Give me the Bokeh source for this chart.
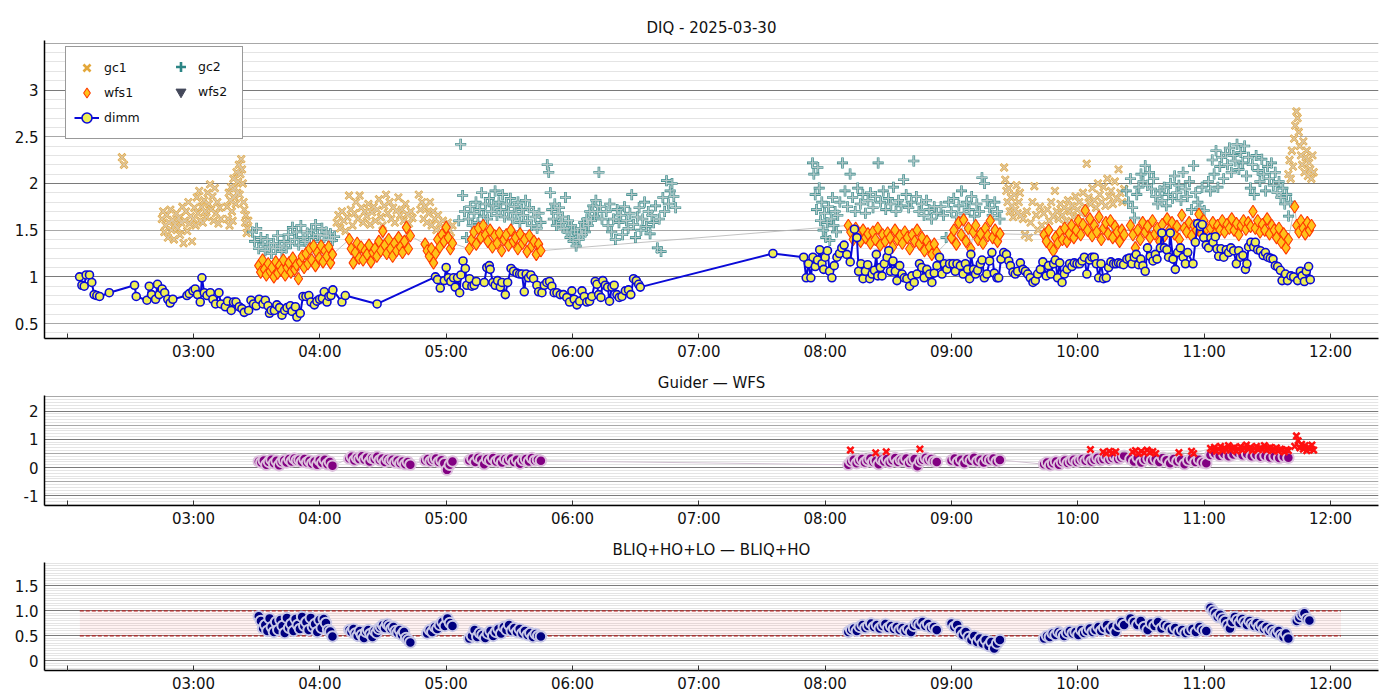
import numpy as np
from bokeh.plotting import figure
from bokeh.layouts import column
from bokeh.models import (FixedTicker, Grid, Legend, LegendItem, Range1d,
                          CustomJSTickFormatter)
from bokeh.embed import file_html
from bokeh.resources import INLINE

FONT = "DejaVu Sans"
TITLE_TOP = "DIQ - 2025-03-30"
TITLE_MID = "Guider \u2014 WFS"
TITLE_BOT = "BLIQ+HO+LO \u2014 BLIQ+HO"
HOUR_TICKS = [2, 3, 4, 5, 6, 7, 8, 9, 10, 11, 12]

# ---------------- DIMM seeing: (minutes after 02:00 UT, value) ----------------
dimm_obs = [
    (5.9, 1.00), (7.0, 0.91), (8.1, 0.90), (9.0, 1.02), (10.6, 1.02), (11.7, 0.94), (12.8, 0.81),
    (14.1, 0.80), (15.4, 0.79), (20.0, 0.83), (32.0, 0.91), (32.8, 0.79), (37.9, 0.75), (39.0, 0.90),
    (40.1, 0.81), (42.0, 0.76), (42.9, 0.92), (43.7, 0.81), (45.1, 0.87), (46.3, 0.83), (47.8, 0.76),
    (48.9, 0.72), (50.2, 0.76), (56.9, 0.80), (58.0, 0.82), (59.7, 0.85), (60.8, 0.87), (61.9, 0.81),
    (63.2, 0.73), (64.0, 0.99), (65.1, 0.83), (66.4, 0.80), (68.0, 0.83), (69.2, 0.76), (70.5, 0.71),
    (72.1, 0.83), (73.0, 0.71), (75.1, 0.68), (76.2, 0.74), (77.9, 0.64), (79.0, 0.73), (80.2, 0.73),
    (81.7, 0.68), (83.0, 0.66), (84.1, 0.62), (86.2, 0.64), (87.3, 0.75), (88.5, 0.71), (89.8, 0.69),
    (91.2, 0.76), (93.0, 0.71), (94.1, 0.75), (95.4, 0.69), (96.1, 0.61), (96.9, 0.64), (98.4, 0.64),
    (99.6, 0.70), (100.9, 0.67), (102.0, 0.59), (103.3, 0.64), (104.4, 0.67), (106.0, 0.69), (106.8, 0.63),
    (108.4, 0.68), (109.1, 0.57), (110.7, 0.61), (112.0, 0.79), (113.4, 0.79), (114.8, 0.80), (115.8, 0.73),
    (117.4, 0.70), (118.6, 0.74), (119.9, 0.76), (121.2, 0.77), (122.1, 0.84), (123.4, 0.73), (124.3, 0.79),
    (125.3, 0.80), (126.2, 0.86), (130.5, 0.73), (132.1, 0.80), (147.2, 0.71), (174.9, 1.00),
    (175.9, 0.97), (177.2, 0.88), (179.1, 0.96), (180.0, 1.10), (181.1, 0.99), (182.2, 0.95), (183.5, 0.99),
    (184.3, 0.89), (185.4, 0.99), (186.4, 0.83), (187.0, 1.02), (188.0, 1.17), (189.1, 1.09), (189.8, 0.91),
    (191.1, 0.98), (192.2, 0.90), (193.3, 0.91), (194.3, 0.95), (198.1, 0.94), (199.3, 1.10), (200.5, 1.12),
    (200.9, 1.08), (202.2, 0.94), (203.3, 0.91), (204.4, 0.96), (205.7, 0.89), (206.5, 0.94), (208.1, 0.81),
    (209.2, 0.94), (210.8, 1.09), (212.0, 1.06), (213.6, 1.04), (214.9, 1.03), (216.0, 1.03), (217.1, 0.84),
    (218.0, 1.03), (219.1, 0.99), (220.2, 1.02), (221.5, 0.98), (223.1, 0.91), (223.9, 0.84), (225.5, 0.83),
    (226.6, 0.91), (227.8, 0.94), (229.1, 0.95), (230.2, 0.90), (231.3, 0.83), (232.6, 0.83), (234.2, 0.81),
    (235.7, 0.81), (237.3, 0.78), (238.6, 0.73), (239.7, 0.85), (240.8, 0.76), (242.1, 0.70), (243.4, 0.74),
    (244.5, 0.85), (245.6, 0.79), (246.8, 0.73), (248.1, 0.74), (249.2, 0.79), (250.8, 0.95), (251.6, 0.92),
    (252.4, 0.81), (253.5, 0.78), (254.4, 0.96), (255.6, 0.91), (256.7, 0.89), (257.6, 0.74), (258.7, 0.89),
    (259.8, 0.91), (261.1, 0.81), (262.2, 0.78), (263.5, 0.79), (265.1, 0.85), (266.6, 0.86), (267.7, 0.81),
    (269.0, 0.98), (270.3, 0.96), (271.4, 0.92), (272.2, 0.89), (335.2, 1.25),
    (349.8, 1.21), (351.0, 0.99), (352.1, 1.14), (353.2, 0.99), (354.2, 1.21), (355.3, 1.11), (356.4, 1.18),
    (357.4, 1.29), (358.5, 1.14), (359.3, 1.08), (360.0, 1.21), (361.1, 1.28), (362.1, 1.06), (363.2, 0.99),
    (364.3, 1.12), (365.6, 1.21), (366.8, 1.25), (367.9, 1.31), (369.0, 1.34), (370.3, 1.24), (371.9, 1.16),
    (373.9, 1.51), (375.1, 1.42), (375.9, 1.06), (377.0, 1.14), (378.0, 0.98), (379.1, 1.06), (380.2, 1.13),
    (381.2, 0.98), (382.3, 1.03), (383.4, 1.07), (384.3, 1.24), (385.0, 1.01), (386.2, 1.10), (387.0, 1.01),
    (388.1, 1.14), (389.4, 1.21), (390.2, 1.28), (391.0, 1.06), (392.2, 1.17), (393.3, 1.06), (394.1, 0.96),
    (395.4, 1.12), (396.5, 1.03), (397.6, 0.99), (398.8, 0.98), (400.1, 0.90), (401.2, 1.01), (402.3, 0.94),
    (403.6, 1.03), (404.8, 1.14), (405.9, 1.10), (407.0, 0.99), (408.3, 1.08), (409.6, 1.03), (410.7, 0.94),
    (411.8, 1.04), (413.1, 1.12), (414.3, 1.21), (415.5, 1.03), (416.6, 1.14), (417.8, 1.08), (419.1, 1.14),
    (420.7, 1.14), (421.8, 1.06), (422.6, 1.14), (424.2, 1.12), (425.5, 1.03), (426.6, 1.14), (427.7, 1.08),
    (428.6, 0.98), (429.2, 1.24), (430.5, 1.08), (431.4, 1.03), (432.4, 1.07), (433.7, 1.14), (434.5, 1.18),
    (435.6, 0.99), (436.8, 1.03), (438.1, 1.17), (439.2, 1.26), (440.3, 1.04), (441.6, 0.99), (442.4, 0.99),
    (443.5, 1.19), (444.8, 1.26), (446.1, 1.24), (447.2, 1.17), (448.0, 1.12), (449.2, 1.05), (450.3, 1.03),
    (451.4, 1.06), (452.7, 1.15), (454.0, 1.08), (455.1, 1.06), (456.2, 1.03), (457.4, 0.99), (458.7, 0.94),
    (459.8, 0.96), (460.9, 1.03), (462.2, 1.08), (463.4, 1.16), (465.0, 1.01), (466.1, 1.12), (467.2, 1.03),
    (468.5, 1.14), (469.3, 1.18), (470.4, 0.99), (471.4, 1.15), (472.5, 0.94), (473.6, 1.03), (474.9, 1.08),
    (476.1, 1.14), (477.2, 1.11), (478.3, 1.15), (479.6, 1.14), (480.9, 1.14), (482.0, 1.17), (483.1, 1.21),
    (484.3, 1.03), (485.6, 1.18), (486.7, 1.21), (487.8, 1.21), (488.8, 1.14), (489.9, 0.99), (491.0, 1.14),
    (492.2, 0.98), (493.5, 0.99), (494.6, 1.10), (495.7, 1.16), (497.0, 1.14), (498.2, 1.14), (499.3, 1.15),
    (500.4, 1.14), (501.7, 1.13), (503.3, 1.19), (504.5, 1.20), (505.7, 1.14), (506.8, 1.21), (507.7, 1.24),
    (508.8, 1.13), (509.9, 1.19), (510.9, 1.12), (512.0, 1.06), (513.1, 1.31), (514.4, 1.22), (515.7, 1.17),
    (516.8, 1.24), (517.6, 1.19), (519.2, 1.31), (519.9, 1.47), (521.1, 1.31), (522.3, 1.29), (523.1, 1.21),
    (523.9, 1.47), (525.2, 1.19), (526.3, 1.08), (527.4, 1.26), (528.7, 1.31), (530.0, 1.21), (531.1, 1.14),
    (532.2, 1.26), (534.7, 1.14), (535.8, 1.37), (536.9, 1.57), (538.2, 1.54), (539.1, 1.56), (539.8, 1.42),
    (541.0, 1.34), (542.1, 1.31), (543.2, 1.42), (544.2, 1.37), (545.3, 1.43), (546.1, 1.30), (546.9, 1.22),
    (548.0, 1.30), (549.3, 1.21), (550.5, 1.29), (551.6, 1.26), (552.7, 1.31), (554.0, 1.28), (555.3, 1.14),
    (556.4, 1.28), (557.2, 1.21), (558.4, 1.23), (559.6, 1.08), (560.3, 1.14), (561.1, 1.32), (562.2, 1.37),
    (563.5, 1.32), (564.3, 1.37), (565.4, 1.29), (566.7, 1.28), (568.0, 1.23), (569.1, 1.26), (570.2, 1.21),
    (571.4, 1.20), (572.7, 1.19), (573.8, 1.12), (574.9, 1.11), (576.2, 1.07), (577.0, 0.96), (578.6, 1.03),
    (579.6, 0.96), (581.2, 1.01), (582.5, 1.00), (584.4, 0.96), (585.7, 1.06), (586.5, 1.01), (587.6, 0.95),
    (588.5, 1.06), (589.6, 1.11), (590.4, 0.97),
]

# ---------------- gc1 (guide camera 1) ----------------
gc1_a = [2.28, 2.20]
gc1_b = [1.62, 1.70, 1.48, 1.55, 1.66, 1.42, 1.58, 1.72, 1.50, 1.61, 1.40, 1.56, 1.68, 1.52, 1.63, 1.45,
         1.58, 1.75, 1.36, 1.60, 1.70, 1.49, 1.80, 1.57, 1.65, 1.38, 1.62, 1.74, 1.55, 1.85, 1.68, 1.92,
         1.60, 1.75, 1.58, 1.82, 1.70, 1.64, 1.90, 1.78, 1.99, 1.72, 1.86, 1.60, 1.95, 1.68, 1.80, 1.57,
         1.74, 1.62]
gc1_c = [1.75, 1.62, 1.90, 1.55, 1.82, 1.96, 1.70, 1.60, 2.05, 1.85, 1.95, 1.78, 2.12, 1.90, 2.02, 2.20,
         1.88, 2.10, 2.26, 2.15, 2.00, 1.80, 1.72, 1.58, 1.66, 1.47, 1.52, 1.60]
gc1_d = [1.58, 1.66, 1.52, 1.70, 1.60, 1.49, 1.64, 1.87, 1.72, 1.55, 1.68, 1.80, 1.62, 1.87, 1.74, 1.58,
         1.70, 1.65, 1.78, 1.56, 1.69, 1.75, 1.60, 1.72, 1.83, 1.64, 1.55, 1.76, 1.88, 1.68, 1.80, 1.62,
         1.74, 1.58, 1.71, 1.85, 1.66, 1.72, 1.60, 1.78, 1.67, 1.57, 1.70, 1.63]
gc1_e = [1.88, 1.72, 1.80, 1.62, 1.75, 1.58, 1.68, 1.80, 1.55, 1.70, 1.62, 1.50, 1.66, 1.57, 1.48, 1.60,
         1.52, 1.45, 1.58, 1.50, 1.42, 1.55]
gc1_f = [2.17, 2.04, 1.92, 1.80, 1.95, 1.70, 1.85, 1.76, 1.64, 1.88, 1.72, 1.98, 1.68, 1.80, 1.90, 1.66]
gc1_g = [1.62, 1.45, 1.70, 1.42, 1.58, 1.80, 1.97, 1.66, 1.50, 1.75, 1.55, 1.68, 1.46, 1.72, 1.60, 1.80,
         1.65, 1.92, 1.70, 1.62, 1.78, 1.66, 1.74, 1.60, 1.82, 1.70, 1.76, 1.64, 1.86, 1.72, 1.80, 1.68,
         1.90, 1.75, 2.21, 1.85, 1.78, 1.95, 1.82, 1.74, 2.00, 1.88, 1.80, 1.96, 1.76, 2.05, 1.86, 1.92,
         1.78, 2.02, 1.84, 2.15, 1.90, 1.80, 1.94]
gc1_h = [2.10, 2.25, 2.05, 2.35, 2.18, 2.48, 2.62, 2.77, 2.70, 2.55, 2.40, 2.30, 2.20, 2.45, 2.12, 2.28,
         2.35, 2.08, 2.22, 2.15, 2.05, 2.30, 2.12]
gc1_segments = [("02:26", "02:27", gc1_a), ("02:45", "03:13", gc1_b), ("03:16", "03:26", gc1_c),
                ("04:08", "04:44", gc1_d), ("04:47", "05:03", gc1_e), ("09:25", "09:33", gc1_f),
                ("09:34", "10:22", gc1_g), ("11:40", "11:52", gc1_h)]

# ---------------- gc2 (guide camera 2) ----------------
gc2_a = [1.48, 1.38, 1.52, 1.30, 1.42, 1.35, 1.28, 1.40, 1.32, 1.25, 1.36, 1.30, 1.44, 1.33, 1.27, 1.38,
         1.31, 1.45, 1.36, 1.53, 1.40, 1.48, 1.34, 1.55, 1.42, 1.38, 1.47, 1.36, 1.50, 1.42, 1.56, 1.45,
         1.38, 1.52, 1.44, 1.48, 1.40, 1.46, 1.39, 1.43]
gc2_b = [1.60, 2.42, 1.87, 1.70, 1.42, 1.62, 1.75, 1.55, 1.68, 1.80, 1.58, 1.72, 1.90, 1.65, 1.78, 1.62,
         1.84, 1.70, 1.76, 1.92, 1.66, 1.80, 1.72, 1.88, 1.64, 1.78, 1.70, 1.84, 1.62, 1.75, 1.68, 1.80,
         1.58, 1.72, 1.66, 1.82, 1.60, 1.74, 1.55, 1.70, 1.64, 1.52, 1.68, 1.58]
gc2_c = [2.20, 2.12, 1.90, 1.72, 1.62, 1.78, 1.55, 1.68, 1.74, 1.58, 1.64, 1.52, 1.85, 1.48, 1.60, 1.42,
         1.55, 1.38, 1.50, 1.33, 1.46, 1.40, 1.52, 1.45, 1.58, 1.48, 1.62, 1.55, 1.70, 1.60, 1.76, 1.65,
         1.82, 1.70, 2.12, 1.75, 1.62]
gc2_d = [1.70, 1.55, 1.78, 1.48, 1.62, 1.40, 1.72, 1.58, 1.66, 1.45, 1.75, 1.60, 1.52, 1.68, 1.88, 1.56,
         1.42, 1.64, 1.74, 1.50, 1.62, 1.80, 1.54, 1.70, 1.46, 1.66, 1.58, 1.76, 1.31, 1.62, 1.27, 1.85,
         1.70, 2.03, 1.78, 1.92, 2.00, 1.86, 1.74]
gc2_e = [2.22, 2.10, 1.88, 1.72, 2.17, 1.95, 1.60, 1.80, 1.50, 1.68, 1.42, 1.58, 1.75, 1.39, 1.62, 1.85,
         1.55, 1.70, 1.48, 1.66]
gc2_f = [1.80, 2.22, 1.92, 1.75, 2.10, 1.85, 1.70, 1.95, 1.78, 1.88, 1.68, 1.82, 1.90, 1.74, 1.86, 2.22,
         1.80, 1.92, 1.72, 1.84, 1.78, 1.96, 1.70, 1.82, 1.76, 2.04, 1.88, 1.74, 1.80, 2.24, 1.86, 1.70,
         1.78, 1.66, 1.82, 1.72, 1.62, 1.75, 1.68]
gc2_g = [1.75, 1.66, 1.42, 1.80, 1.70, 1.84, 1.64, 1.76, 1.92, 1.68, 1.80, 1.72, 1.86, 1.65, 1.78, 1.70,
         2.06, 2.00, 1.82, 1.74, 1.66, 1.80, 1.70, 1.62]
gc2_h = [1.92, 1.80, 2.05, 1.74, 1.63, 1.88, 1.96, 2.10, 2.02, 2.19, 1.98, 2.12, 1.94, 2.05, 1.86, 1.78,
         1.92, 1.82, 1.96, 1.76, 1.88, 2.00, 1.84, 2.08, 1.90, 1.98, 1.82, 2.12, 1.94, 1.86, 2.02, 1.72,
         2.19, 1.90, 1.80, 1.74, 1.96, 1.71]
gc2_i = [2.02, 1.92, 2.25, 2.10, 2.35, 1.96, 2.18, 2.28, 2.05, 2.32, 2.20, 2.38, 2.12, 2.30, 2.24, 2.42,
         2.15, 2.33, 2.22, 2.40, 2.08, 2.28, 1.95, 2.20, 1.88, 2.30, 2.14, 2.02, 2.26, 2.10, 1.92, 2.18,
         2.05, 2.22, 1.98, 2.12, 1.90, 2.02, 1.85, 1.95, 1.78, 1.88, 1.65, 1.80]
gc2_segments = [("03:28", "04:07", gc2_a), ("05:06", "05:45", gc2_b), ("05:48", "06:14", gc2_c),
                ("06:16", "06:49", gc2_d), ("07:54", "08:06", gc2_e), ("08:07", "08:53", gc2_f),
                ("08:55", "09:23", gc2_g), ("10:23", "11:00", gc2_h), ("11:02", "11:41", gc2_i)]

# ---------------- wfs1 ----------------
wfs1_a = [1.12, 1.05, 1.18, 1.08, 1.02, 1.14, 1.06, 1.10, 1.00, 1.16, 1.04, 1.12, 1.07, 1.18, 1.02, 1.10,
          1.15, 1.05, 1.20, 1.08, 1.13, 0.98, 1.16, 1.22, 1.10, 1.25, 1.14, 1.30, 1.18, 1.33, 1.12, 1.26,
          1.20, 1.33, 1.16, 1.28, 1.22, 1.32, 1.15, 1.24]
wfs1_b = [1.40, 1.30, 1.15, 1.26, 1.36, 1.20, 1.32, 1.18, 1.28, 1.24, 1.34, 1.16, 1.26, 1.30, 1.22, 1.38,
          1.28, 1.49, 1.34, 1.25, 1.40, 1.30, 1.22, 1.36, 1.28, 1.42, 1.32, 1.26, 1.38, 1.53, 1.30, 1.44]
wfs1_c = [1.35, 1.28, 1.22, 1.30, 1.15, 1.25, 1.40, 1.32, 1.45, 1.38, 1.53, 1.42, 1.30, 1.36]
wfs1_d = [1.30, 1.40, 1.48, 1.35, 1.52, 1.42, 1.55, 1.45, 1.38, 1.50, 1.32, 1.44, 1.36, 1.47, 1.28, 1.40,
          1.45, 1.34, 1.50, 1.38, 1.42, 1.30, 1.46, 1.36, 1.40, 1.27, 1.44, 1.33, 1.38, 1.24, 1.35, 1.28]
wfs1_e = [1.55, 1.48, 1.40, 1.52, 1.44, 1.38, 1.50, 1.42, 1.46, 1.36, 1.48, 1.40, 1.52, 1.34, 1.45, 1.38,
          1.47, 1.42, 1.32, 1.50, 1.40, 1.44, 1.36, 1.48, 1.42, 1.30, 1.45, 1.38, 1.50, 1.35, 1.42, 1.28,
          1.38, 1.32, 1.24, 1.35, 1.26]
wfs1_f = [1.42, 1.50, 1.35, 1.58, 1.45, 1.61, 1.38, 1.52, 1.30, 1.48, 1.55, 1.40, 1.46, 1.36, 1.52, 1.44,
          1.60, 1.42, 1.50, 1.38, 1.46]
wfs1_g = [1.45, 1.38, 1.50, 1.32, 1.28, 1.42, 1.36, 1.48, 1.40, 1.52, 1.38, 1.46, 1.55, 1.42, 1.50, 1.60,
          1.45, 1.56, 1.71, 1.50, 1.62, 1.44, 1.55, 1.48, 1.64, 1.40, 1.52, 1.58, 1.46, 1.60, 1.42, 1.54,
          1.48, 1.38, 1.50, 1.45]
wfs1_h = [1.55, 1.45, 1.31, 1.50, 1.40, 1.58, 1.48, 1.54, 1.42, 1.60, 1.46, 1.52, 1.38, 1.56, 1.44, 1.62,
          1.50, 1.58, 1.46, 1.54, 1.40, 1.66, 1.52, 1.48, 1.58, 1.44, 1.55, 1.50, 1.67, 1.46, 1.60, 1.52]
wfs1_i = [1.52, 1.58, 1.46, 1.55, 1.50, 1.60, 1.48, 1.56, 1.52, 1.62, 1.50, 1.57, 1.45, 1.55, 1.60, 1.51,
          1.58, 1.54, 1.70, 1.52, 1.60, 1.48, 1.56, 1.50, 1.62, 1.46, 1.55, 1.50, 1.42, 1.52, 1.37, 1.46,
          1.31, 1.40]
wfs1_j = [1.75, 1.55, 1.48, 1.60, 1.52, 1.46, 1.58, 1.50, 1.55]
wfs1_segments = [("03:31", "04:06", wfs1_a), ("04:14", "04:43", wfs1_b), ("04:50", "05:03", wfs1_c),
                 ("05:11", "05:45", wfs1_d), ("08:11", "08:53", wfs1_e), ("09:00", "09:23", wfs1_f),
                 ("09:44", "10:22", wfs1_g), ("10:25", "11:01", wfs1_h), ("11:03", "11:40", wfs1_i),
                 ("11:43", "11:51", wfs1_j)]

# ---------------- Guider - WFS ----------------
gw_a = [0.22, 0.18, 0.25, 0.10, 0.20, 0.28, 0.15, 0.24, 0.08, 0.20, 0.26, 0.18, 0.30, 0.22, 0.32, 0.25,
        0.28, 0.20, 0.30, 0.18, 0.24, 0.14, 0.22, 0.10, 0.26, 0.16, 0.28, 0.12, 0.20, 0.07]
gw_b = [0.32, 0.38, 0.25, 0.35, 0.30, 0.40, 0.28, 0.36, 0.22, 0.34, 0.30, 0.38, 0.26, 0.32, 0.20, 0.30,
        0.24, 0.28, 0.18, 0.25, 0.15, 0.22, 0.12, 0.20, 0.10]
gw_c = [0.25, 0.30, 0.22, 0.28, 0.32, 0.20, 0.26, 0.15, -0.08, 0.10, 0.22]
gw_d = [0.25, 0.32, 0.20, 0.35, 0.28, 0.12, 0.30, 0.24, 0.34, 0.22, 0.28, 0.18, 0.30, 0.25, 0.32, 0.20,
        0.28, 0.14, 0.26, 0.30, 0.22, 0.34, 0.25, 0.28, 0.24]
gw_e = [0.10, 0.22, 0.28, 0.15, 0.25, 0.30, 0.18, 0.26, 0.32, 0.20, 0.24, 0.12, 0.28, 0.22, 0.30, 0.18,
        0.26, 0.34, 0.20, 0.28, 0.24, 0.32, 0.16, 0.25, 0.30, 0.05, 0.22, 0.28, 0.35, 0.26, 0.30, 0.22, 0.20]
gw_f = [0.25, 0.32, 0.20, 0.28, 0.15, 0.30, 0.24, 0.35, 0.22, 0.28, 0.18, 0.30, 0.26, 0.32, 0.22, 0.27]
gw_g = [0.12, 0.18, 0.08, 0.15, 0.22, 0.10, 0.20, 0.25, 0.16, 0.22, 0.28, 0.20, 0.26, 0.30, 0.24, 0.32,
        0.22, 0.28, 0.35, 0.26, 0.30, 0.38, 0.28, 0.34, 0.40, 0.30, 0.36, 0.42]
gw_h = [0.30, 0.22, 0.35, 0.18, 0.28, 0.32, 0.25, 0.30, 0.20, 0.35, 0.26, 0.15, 0.30, 0.22, 0.28, 0.12,
        0.25, 0.32, 0.20, 0.28, 0.18, 0.15]
gw_i = [0.45, 0.50, 0.42, 0.48, 0.40, 0.46, 0.52, 0.44, 0.48, 0.40, 0.45, 0.38, 0.42, 0.36, 0.40, 0.34,
        0.38, 0.35]
gw_segments = [("03:31", "04:06", gw_a), ("04:14", "04:43", gw_b), ("04:50", "05:03", gw_c),
               ("05:11", "05:45", gw_d), ("08:11", "08:53", gw_e), ("09:00", "09:23", gw_f),
               ("09:44", "10:22", gw_g), ("10:25", "11:01", gw_h), ("11:03", "11:40", gw_i)]

gw2_dense = [0.68, 0.62, 0.72, 0.58, 0.66, 0.75, 0.60, 0.70, 0.64, 0.78, 0.62, 0.68, 0.72, 0.58, 0.66,
             0.74, 0.62, 0.70, 0.80, 0.65, 0.72, 0.60, 0.68, 0.75, 0.63, 0.70, 0.66, 0.78, 0.62, 0.68,
             0.72, 0.60, 0.65, 0.70, 0.58, 0.66, 0.62, 0.55, 0.64, 0.60]
gw2_end = [0.75, 1.12, 0.95, 0.70, 0.82, 0.65, 0.78, 0.60, 0.72, 0.66, 0.80, 0.62]
gw2_segments = [("08:12", "08:12", [0.62]), ("08:24", "08:24", [0.52]), ("08:29", "08:29", [0.56]),
                ("08:45", "08:45", [0.66]), ("10:06", "10:06", [0.64]),
                ("10:12", "10:18", [0.55, 0.50, 0.58, 0.52, 0.56]),
                ("10:26", "10:37", [0.55, 0.60, 0.50, 0.58, 0.52, 0.62, 0.54, 0.57, 0.50]),
                ("10:48", "10:48", [0.53]), ("10:54", "10:55", [0.58, 0.50]),
                ("11:03", "11:40", gw2_dense), ("11:43", "11:52", gw2_end)]

# ---------------- BLIQ+HO+LO - BLIQ+HO ----------------
bl_a = [0.89, 0.80, 0.65, 0.72, 0.60, 0.85, 0.68, 0.58, 0.78, 0.62, 0.82, 0.70, 0.56, 0.86, 0.66, 0.74,
        0.60, 0.84, 0.72, 0.64, 0.88, 0.70, 0.78, 0.62, 0.86, 0.68, 0.74, 0.58, 0.82, 0.66, 0.84, 0.76,
        0.62, 0.59, 0.49]
bl_b = [0.62, 0.58, 0.64, 0.55, 0.50, 0.60, 0.52, 0.46, 0.58, 0.62, 0.54, 0.48, 0.60, 0.56, 0.64, 0.68,
        0.72, 0.66, 0.74, 0.70, 0.64, 0.68, 0.60, 0.56, 0.62, 0.52, 0.58, 0.46, 0.42, 0.37]
bl_c = [0.55, 0.62, 0.58, 0.68, 0.64, 0.72, 0.78, 0.70, 0.85, 0.76, 0.70]
bl_d = [0.45, 0.50, 0.62, 0.48, 0.56, 0.52, 0.46, 0.55, 0.60, 0.50, 0.58, 0.64, 0.55, 0.68, 0.62, 0.72,
        0.60, 0.66, 0.58, 0.64, 0.55, 0.60, 0.52, 0.56, 0.48, 0.54, 0.50, 0.49]
bl_e = [0.58, 0.62, 0.65, 0.60, 0.68, 0.72, 0.66, 0.70, 0.75, 0.68, 0.72, 0.65, 0.70, 0.74, 0.66, 0.70,
        0.64, 0.68, 0.62, 0.66, 0.60, 0.64, 0.58, 0.70, 0.75, 0.72, 0.78, 0.70, 0.74, 0.66, 0.68, 0.62]
bl_f = [0.75, 0.68, 0.72, 0.60, 0.52, 0.58, 0.48, 0.42, 0.50, 0.38, 0.45, 0.35, 0.42, 0.30, 0.38, 0.25,
        0.35, 0.42]
bl_g = [0.45, 0.50, 0.48, 0.55, 0.52, 0.58, 0.54, 0.50, 0.56, 0.60, 0.55, 0.58, 0.52, 0.62, 0.56, 0.60,
        0.65, 0.58, 0.62, 0.68, 0.60, 0.66, 0.72, 0.62, 0.68, 0.58, 0.70, 0.78, 0.72]
bl_h = [0.85, 0.78, 0.72, 0.80, 0.68, 0.62, 0.75, 0.70, 0.78, 0.65, 0.72, 0.68, 0.62, 0.66, 0.58, 0.62,
        0.56, 0.60, 0.64, 0.58, 0.68, 0.62, 0.60]
bl_i = [1.06, 1.00, 0.95, 0.88, 0.92, 0.85, 0.80, 0.72, 0.65, 0.78, 0.88, 0.82, 0.76, 0.84, 0.78, 0.72,
        0.80, 0.74, 0.70, 0.76, 0.68, 0.72, 0.64, 0.68, 0.60, 0.64, 0.58, 0.55, 0.60, 0.52, 0.48, 0.55, 0.45]
bl_j = [0.80, 0.86, 0.92, 0.95, 0.84, 0.81]
bl_segments = [("03:31", "04:06", bl_a), ("04:14", "04:43", bl_b), ("04:51", "05:03", bl_c),
               ("05:11", "05:45", bl_d), ("08:11", "08:53", bl_e), ("09:00", "09:23", bl_f),
               ("09:44", "10:22", bl_g), ("10:25", "11:01", bl_h), ("11:03", "11:40", bl_i),
               ("11:44", "11:50", bl_j)]
bl_limits = [0.5, 1.0]
bl_band = ("02:06", "12:05")


# ---------------- helpers ----------------
def hours(s):
    h, m = s.split(":")
    return int(h) + int(m) / 60.0


def seg_times(a, b, n):
    if n == 1:
        return [hours(a)]
    return list(np.linspace(hours(a), hours(b), n))


def expand(segments):
    xs, ys = [], []
    for a, b, vals in segments:
        xs += seg_times(a, b, len(vals))
        ys += list(vals)
    return xs, ys


X0, X1 = 1.8206, 12.38
GRID_LIGHT = "#e4e4e4"
GRID_MID = "#a8a8a8"
GRID_DARK = "#7a7a7a"


def make_fig(height, y0, y1, top, bottom, title, ylabel_ticks, yfmt, grids):
    p = figure(width=1392, height=height, x_range=Range1d(X0, X1), y_range=Range1d(y0, y1),
               output_backend="svg", toolbar_location=None,
               min_border_left=44, min_border_right=14, min_border_top=top, min_border_bottom=bottom)
    p.title.text = title
    p.title.align = "center"
    p.title.text_font = FONT
    p.title.text_font_size = "15px"
    p.title.text_font_style = "normal"
    p.title.text_color = "#111111"
    p.title.standoff = 8
    p.outline_line_color = None
    p.background_fill_color = "white"
    p.xgrid.visible = False
    p.ygrid.visible = False
    for ticks, color in grids:
        g = Grid(dimension=1, ticker=FixedTicker(ticks=list(ticks)), grid_line_color=color,
                 grid_line_width=1)
        p.add_layout(g)
    xa = p.xaxis[0]
    xa.ticker = FixedTicker(ticks=HOUR_TICKS)
    xa.formatter = CustomJSTickFormatter(
        code="return tick < 2.5 ? '' : (tick < 10 ? '0' : '') + tick.toFixed(0) + ':00';")
    xa.major_tick_in = 5
    xa.major_tick_out = 0
    xa.minor_tick_line_color = None
    xa.major_tick_line_color = "#333333"
    xa.axis_line_color = "black"
    xa.axis_line_width = 1.5
    xa.major_label_text_font = FONT
    xa.major_label_text_font_size = "15px"
    xa.major_label_text_color = "#111111"
    xa.major_label_standoff = 4
    ya = p.yaxis[0]
    ya.ticker = FixedTicker(ticks=ylabel_ticks)
    ya.formatter = CustomJSTickFormatter(code=yfmt)
    ya.major_tick_in = 0
    ya.major_tick_out = 0
    ya.major_tick_line_color = None
    ya.minor_tick_line_color = None
    ya.axis_line_color = "black"
    ya.axis_line_width = 1.5
    ya.major_label_text_font = FONT
    ya.major_label_text_font_size = "15px"
    ya.major_label_text_color = "#111111"
    ya.major_label_standoff = 6
    return p


# ================= top panel =================
p1 = make_fig(365, 0.34, 3.53, 40, 27, TITLE_TOP, [0.5, 1, 1.5, 2, 2.5, 3],
              "return String(Math.round(tick*10)/10);",
              [(np.round(np.arange(0.4, 3.55, 0.1), 2), GRID_LIGHT),
               ([0.5, 1.5, 2.5, 3.5], GRID_MID), ([1, 2, 3], GRID_DARK)])

gx1, gy1 = expand(gc1_segments)
gx2, gy2 = expand(gc2_segments)
wx, wy = expand(wfs1_segments)
dimm_x = [2 + t / 60.0 for t, v in dimm_obs]
dimm_y = [v for t, v in dimm_obs]

r_gc1 = p1.scatter(gx1, gy1, marker="x", size=10, line_color="#e3a73a", line_width=2.6)
p1.scatter(gx1, gy1, marker="x", size=9, line_color="#dcc7a6", line_width=1.3)
p1.line(wx, wy, line_color="#b4b4b4", line_width=1, line_alpha=0.8)
r_gc2 = p1.scatter(gx2, gy2, marker="cross", size=11, line_color="#2c8585", line_width=2.6)
p1.scatter(gx2, gy2, marker="cross", size=10, line_color="#b4c8c8", line_width=1.4)
r_wfs1 = p1.scatter(wx, wy, marker="diamond", size=12.5, fill_color="#ffc21a",
                    line_color="#ff3a00", line_width=1.1)
r_wfs2 = p1.scatter([np.nan], [np.nan], marker="inverted_triangle", size=9, fill_color="#44485a",
                    line_color="#44485a")
r_dimm_l = p1.line(dimm_x, dimm_y, line_color="#0a0ad8", line_width=2)
r_dimm_p = p1.scatter(dimm_x, dimm_y, marker="circle", size=8, fill_color="#eeee55",
                      line_color="#0a0ad8", line_width=1.6)

leg_common = dict(label_text_font=FONT, label_text_font_size="12.5px", label_text_color="#111111",
                  glyph_width=25, glyph_height=25, spacing=0, padding=8, label_standoff=5,
                  margin=0)
leg1 = Legend(items=[LegendItem(label="gc1", renderers=[r_gc1]),
                     LegendItem(label="wfs1", renderers=[r_wfs1]),
                     LegendItem(label="dimm", renderers=[r_dimm_l, r_dimm_p])],
              location=(21, 199), label_width=130, border_line_color="#333333",
              border_line_width=1.5, background_fill_color="white", background_fill_alpha=1,
              **leg_common)
leg2 = Legend(items=[LegendItem(label="gc2", renderers=[r_gc2]),
                     LegendItem(label="wfs2", renderers=[r_wfs2])],
              location=(124, 234), border_line_color=None, background_fill_alpha=0,
              **leg_common)
p1.add_layout(leg1)
p1.add_layout(leg2)

# ================= middle panel =================
p2 = make_fig(167, -1.34, 2.55, 30, 27, TITLE_MID, [-1, 0, 1, 2],
              "return String(Math.round(tick));",
              [(np.round(np.arange(-1.3, 2.55, 0.1), 2), GRID_LIGHT),
               ([-0.5, 0.5, 1.5, 2.5], GRID_MID), ([-1, 0, 1, 2], GRID_DARK)])
mx, my = expand(gw_segments)
rx, ry = expand(gw2_segments)
p2.line(mx, my, line_color="#d2c2d2", line_width=1)
p2.scatter(mx, my, marker="circle", size=10.5, fill_color="#820082", line_color="#dcc0dc",
           line_width=2)
p2.line(rx, ry, line_color="#d0d0d0", line_width=1)
p2.scatter(rx, ry, marker="x", size=9, line_color="#ff1010", line_width=2.5)

# ================= bottom panel =================
p3 = make_fig(163, -0.19, 1.965, 30, 24, TITLE_BOT, [0, 0.5, 1.0, 1.5],
              "return tick == 0 ? '0' : tick.toFixed(1);",
              [(np.round(np.arange(-0.15, 1.96, 0.05), 3), GRID_LIGHT),
               ([0, 0.5, 1.0, 1.5], GRID_DARK)])
band_x = [hours(bl_band[0]), hours(bl_band[1])]
p3.varea(x=band_x, y1=[bl_limits[0]] * 2, y2=[bl_limits[1]] * 2, fill_color="#ff4040",
         fill_alpha=0.07)
for lim in bl_limits:
    p3.line(band_x, [lim, lim], line_color="#b02020", line_width=1.2, line_dash="4 2")
bx, by = expand(bl_segments)
p3.scatter(bx, by, marker="circle", size=10.5, fill_color="#000080", line_color="#c8c8e6",
           line_width=2)

layout = column(p1, p2, p3, spacing=0)
open("out.html", "w").write(file_html(layout, INLINE))
